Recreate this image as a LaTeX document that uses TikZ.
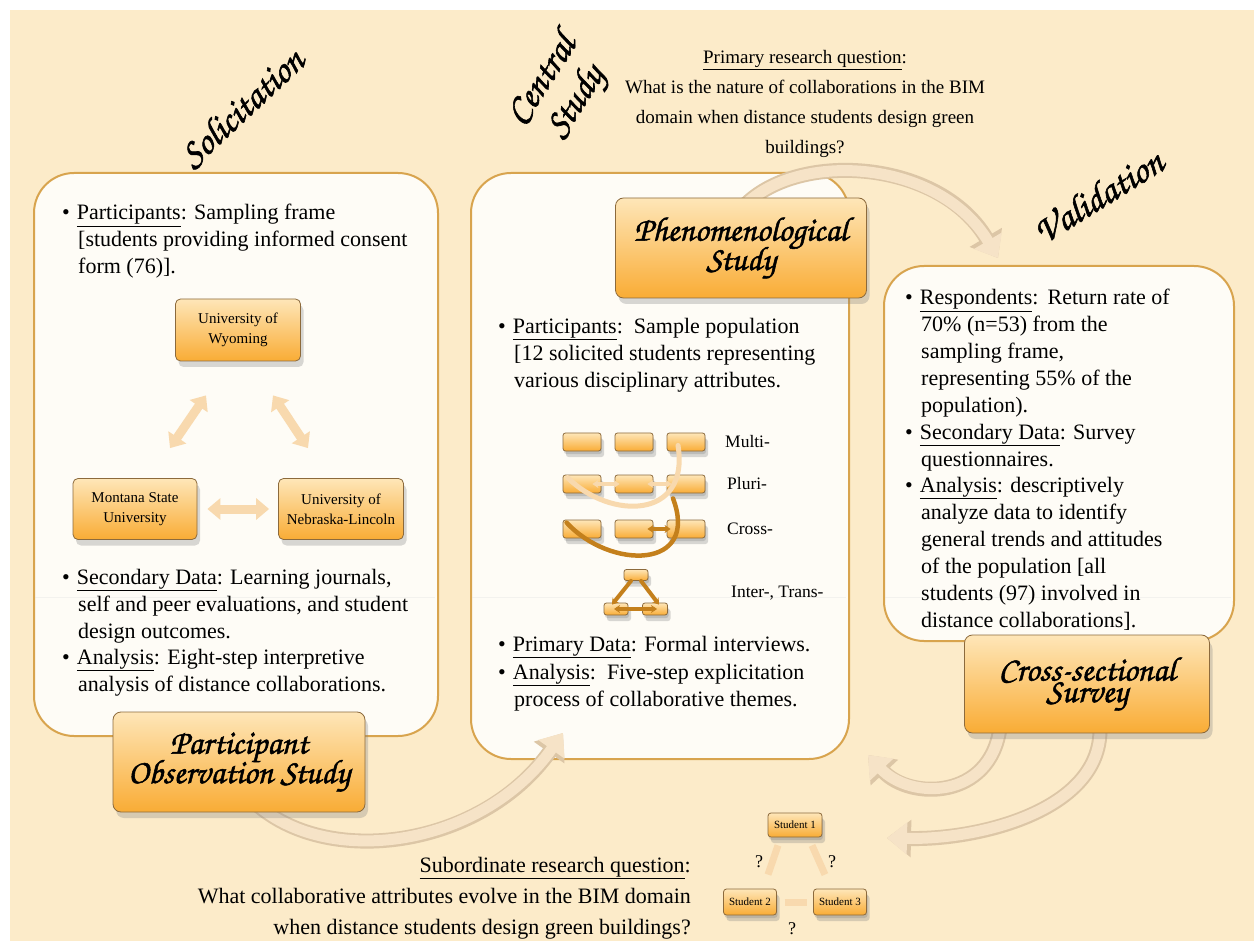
\documentclass[tikz,border=0pt]{standalone}
\usepackage{fontspec}
\setmainfont{Liberation Serif}
\newfontfamily\scriptf[FakeBold=1.5]{texgyrechorus-mediumitalic.otf}
\usetikzlibrary{arrows.meta,shadows,calc}
\definecolor{bgbeige}{HTML}{FCEBC9}
\definecolor{boxwhite}{HTML}{FEFCF6}
\definecolor{boxedge}{HTML}{D8A44E}
\definecolor{orTop}{HTML}{FEE6B8}
\definecolor{orBot}{HTML}{F9AC35}
\definecolor{orEdge}{HTML}{8C6A3C}
\definecolor{pale}{HTML}{F8D9AE}
\definecolor{paleEdge}{HTML}{DCC6A6}
\definecolor{darkor}{HTML}{C4801C}
\definecolor{arcfill}{HTML}{F6E3C7}
\tikzset{
  bigbox/.style={draw=boxedge, line width=2pt, fill=boxwhite, rounded corners=40pt, inner sep=0pt},
  obox/.style={draw=orEdge, line width=0.8pt, top color=orTop, bottom color=orBot, rounded corners=8pt,
    drop shadow={shadow xshift=3pt, shadow yshift=-6pt, opacity=0.3}, align=center, inner sep=0pt},
  sbox/.style={obox, rounded corners=2.5pt, drop shadow={shadow xshift=1pt, shadow yshift=-3pt, opacity=0.3}},
  txt/.style={font=\fontsize{22}{27}\selectfont, align=left, inner sep=0pt, anchor=north west},
  stitle/.style={font=\scriptf\fontsize{38}{40}\selectfont, align=center, inner sep=0pt},
  unitxt/.style={font=\fontsize{15}{20}\selectfont},
  lbl/.style={font=\fontsize{17.5}{20}\selectfont, anchor=west, inner sep=0pt},
  qmark/.style={font=\fontsize{18}{20}\selectfont, inner sep=0pt},
  bigarrow/.style={preaction={draw=paleEdge, line width=15pt, -{Triangle[width=36pt,length=24pt]}},
    draw=arcfill, line width=11pt, -{Triangle[width=31pt,length=20pt]}},
  uniarrow/.style={draw=pale, line width=9pt, {Triangle[width=21pt,length=13pt]}-{Triangle[width=21pt,length=13pt]}},
  stuline/.style={draw=pale, line width=7pt},
  paleline/.style={draw=pale, line width=4pt, line cap=round},
  darkline/.style={draw=darkor, line width=4pt, line cap=round},
  faint/.style={draw=white!88!black, opacity=0.35, line width=1pt},
}
\begin{document}
\begin{tikzpicture}[x=1pt, y=-1pt]
\useasboundingbox (0,0) rectangle (1254,941);
\fill[white] (0,0) rectangle (1254,941);
\fill[bgbeige] (10,10) rectangle (1254,941);

% big boxes
\node[bigbox, minimum width=404pt, minimum height=563pt, anchor=north west] (left) at (33,172) {};
\node[bigbox, minimum width=378pt, minimum height=586pt, anchor=north west] (center) at (470,172) {};
\node[bigbox, minimum width=350pt, minimum height=375pt, anchor=north west] (right) at (883,265) {};
\draw[faint] (35,597) -- (435,597);
\draw[faint] (472,597) -- (846,597);
\draw[faint] (885,597) -- (1231,597);

% script titles
\node[stitle, rotate=43] (tsol) at (242,108) {Solicitation};
\node[stitle, rotate=57] (tcen) at (560,92) {Central\\Study};
\node[stitle, rotate=32] (tval) at (1098,196) {Validation};

% primary question
\node[font=\fontsize{19}{30}\selectfont, align=center, anchor=north, inner sep=0pt] (pq) at (805,50)
  {\underline{Primary research question}:\\What is the nature of collaborations in the BIM\\domain when distance students design green\\buildings?};

% big curved arrows
\coordinate (a1s) at (250,798);
\coordinate (a1e) at (563,733);
\coordinate (a2s) at (745,205);
\coordinate (a2e) at (998,258);
\coordinate (a3s) at (1000,728);
\coordinate (a3e) at (868,755);
\coordinate (a4s) at (1100,730);
\coordinate (a4e) at (887,838);
\draw[bigarrow] (a1s) .. controls (320,870) and (480,850) .. (a1e);
\draw[bigarrow] (a2s) .. controls (800,150) and (940,160) .. (a2e);
\draw[bigarrow] (a3s) .. controls (990,800) and (910,800) .. (a3e);
\draw[bigarrow] (a4s) .. controls (1100,810) and (980,840) .. (a4e);

% orange title boxes
\node[obox, minimum width=252pt, minimum height=100pt] (pos) at (239,762) {\begin{tabular}{@{}c@{}}\scriptf\fontsize{34}{40}\selectfont Participant\\[-2pt]\scriptf\fontsize{34}{40}\selectfont Observation Study\end{tabular}};
\node[obox, minimum width=251pt, minimum height=100pt] (phen) at (741,248) {\begin{tabular}{@{}c@{}}\scriptf\fontsize{34}{40}\selectfont Phenomenological\\[-2pt]\scriptf\fontsize{34}{40}\selectfont Study\end{tabular}};
\node[obox, minimum width=245pt, minimum height=98pt] (css) at (1087,684) {\begin{tabular}{@{}c@{}}\scriptf\fontsize{34}{40}\selectfont Cross-sectional\\[-2pt]\scriptf\fontsize{34}{40}\selectfont Survey\end{tabular}};

% left box text
\node[txt] (lt1) at (62,204) {\textbullet\hspace{7pt}\underline{Participants}: Sampling frame\\\hspace*{16pt}[students providing informed consent\\\hspace*{16pt}form (76)].};
\node[txt] (lt2) at (62,569) {\textbullet\hspace{7pt}\underline{Secondary Data}: Learning journals,\\\hspace*{16pt}self and peer evaluations, and student\\\hspace*{16pt}design outcomes.};
\node[txt] (lt3) at (62,649) {\textbullet\hspace{7pt}\underline{Analysis}: Eight-step interpretive\\\hspace*{16pt}analysis of distance collaborations.};

% universities
\node[obox, rounded corners=5pt, minimum width=125pt, minimum height=62pt, unitxt] (uw) at (238,330) {University of\\Wyoming};
\node[obox, rounded corners=5pt, minimum width=124pt, minimum height=61pt, unitxt] (msu) at (135,509) {Montana State\\University};
\node[obox, rounded corners=5pt, minimum width=125pt, minimum height=61pt, unitxt] (unl) at (341,509) {University of\\Nebraska-Lincoln};
\draw[uniarrow] ([xshift=-32pt,yshift=-34pt]uw.south) -- ([xshift=35pt,yshift=30pt]msu.north);
\draw[uniarrow] ([xshift=35pt,yshift=-34pt]uw.south) -- ([xshift=-33pt,yshift=30pt]unl.north);
\draw[uniarrow] ([xshift=10pt]msu.east) -- ([xshift=-9pt]unl.west);

% central box text
\node[txt] (ct1) at (498,318) {\textbullet\hspace{7pt}\underline{Participants}:\, Sample population\\\hspace*{16pt}[12 solicited students representing\\\hspace*{16pt}various disciplinary attributes.};
\node[txt] (ct2) at (498,636) {\textbullet\hspace{7pt}\underline{Primary Data}: Formal interviews.};
\node[txt] (ct3) at (498,664) {\textbullet\hspace{7pt}\underline{Analysis}:\, Five-step explicitation\\\hspace*{16pt}process of collaborative themes.};

% multi / pluri / cross / inter
\foreach \r/\yy in {m/442, p/484, c/529} {
  \node[sbox, minimum width=38pt, minimum height=18pt] (\r1) at (582,\yy) {};
  \node[sbox, minimum width=38pt, minimum height=18pt] (\r2) at (634,\yy) {};
  \node[sbox, minimum width=38pt, minimum height=18pt] (\r3) at (686,\yy) {};
}
\node[sbox, minimum width=24pt, minimum height=11pt] (i1) at (636,575) {};
\node[sbox, minimum width=24pt, minimum height=12pt] (i2) at (616,609) {};
\node[sbox, minimum width=25pt, minimum height=12pt] (i3) at (655,609) {};
\node[lbl] (lm) at (725,442) {Multi-};
\node[lbl] (lp) at (727,484) {Pluri-};
\node[lbl] (lc) at (727,529) {Cross-};
\node[lbl] (li) at (731,593) {Inter-, Trans-};

\draw[paleline, {Stealth[length=6pt,width=8pt]}-{Stealth[length=6pt,width=8pt]}] ([xshift=-9pt]p1.east) -- ([xshift=5pt]p2.west);
\draw[paleline, {Stealth[length=6pt,width=8pt]}-{Stealth[length=6pt,width=8pt]}] ([xshift=-6pt]p2.east) -- ([xshift=5pt]p3.west);
\draw[paleline, line width=5pt] ([xshift=5pt,yshift=-3pt]p1.north west) .. controls (610,520) and (690,520) .. ([xshift=-8pt,yshift=6pt]m3.south);
\draw[darkline, line width=4.5pt] ([xshift=4pt,yshift=-3pt]c1.north west) .. controls (610,570) and (700,570) .. ([xshift=-13pt,yshift=-5pt]p3.south);
\draw[darkline, {Stealth[length=6pt,width=8pt]}-{Stealth[length=6pt,width=8pt]}] ([xshift=-6pt]c2.east) -- ([xshift=4pt]c3.west);
\draw[darkline, -{Stealth[length=6pt,width=8pt]}] ([xshift=-5pt]i1.south) -- ([xshift=-4pt,yshift=-2pt]i2.north);
\draw[darkline, -{Stealth[length=6pt,width=8pt]}] ([xshift=5pt]i1.south) -- ([xshift=4pt,yshift=-2pt]i3.north);
\draw[darkline, {Stealth[length=6pt,width=8pt]}-{Stealth[length=6pt,width=8pt]}] ([xshift=-2pt]i2.center) -- ([xshift=2pt]i3.center);

% right box text
\node[txt] (rt1) at (905,289) {\textbullet\hspace{7pt}\underline{Respondents}:\,\ Return rate of\\\hspace*{16pt}70\% (n=53) from the\\\hspace*{16pt}sampling frame,\\\hspace*{16pt}representing 55\% of the\\\hspace*{16pt}population).};
\node[txt] (rt2) at (905,424) {\textbullet\hspace{7pt}\underline{Secondary Data}: Survey\\\hspace*{16pt}questionnaires.};
\node[txt] (rt3) at (905,477) {\textbullet\hspace{7pt}\underline{Analysis}: descriptively\\\hspace*{16pt}analyze data to identify\\\hspace*{16pt}general trends and attitudes\\\hspace*{16pt}of the population [all\\\hspace*{16pt}students (97) involved in\\\hspace*{16pt}distance collaborations].};

% students
\node[sbox, rounded corners=3pt, minimum width=54pt, minimum height=24pt, font=\fontsize{11}{13}\selectfont] (s1) at (795,825) {Student 1};
\node[sbox, rounded corners=3pt, minimum width=53pt, minimum height=26pt, font=\fontsize{11}{13}\selectfont] (s2) at (750,902) {Student 2};
\node[sbox, rounded corners=3pt, minimum width=53pt, minimum height=26pt, font=\fontsize{11}{13}\selectfont] (s3) at (840,902) {Student 3};
\draw[stuline] ([xshift=-17pt,yshift=-8pt]s1.south) -- ([xshift=18pt,yshift=14pt]s2.north);
\draw[stuline] ([xshift=17pt,yshift=-8pt]s1.south) -- ([xshift=-15pt,yshift=14pt]s3.north);
\draw[stuline] ([xshift=8pt]s2.east) -- ([xshift=-6pt]s3.west);
\node[qmark] (q1) at (759,862) {?};
\node[qmark] (q2) at (832,862) {?};
\node[qmark] (q3) at (792,929) {?};

% subordinate question
\node[font=\fontsize{22}{31}\selectfont, align=right, anchor=north east, inner sep=0pt] (sq) at (691,857)
  {\underline{Subordinate research question}:\\What collaborative attributes evolve in the BIM domain\\when distance students design green buildings?};
\end{tikzpicture}
\end{document}
